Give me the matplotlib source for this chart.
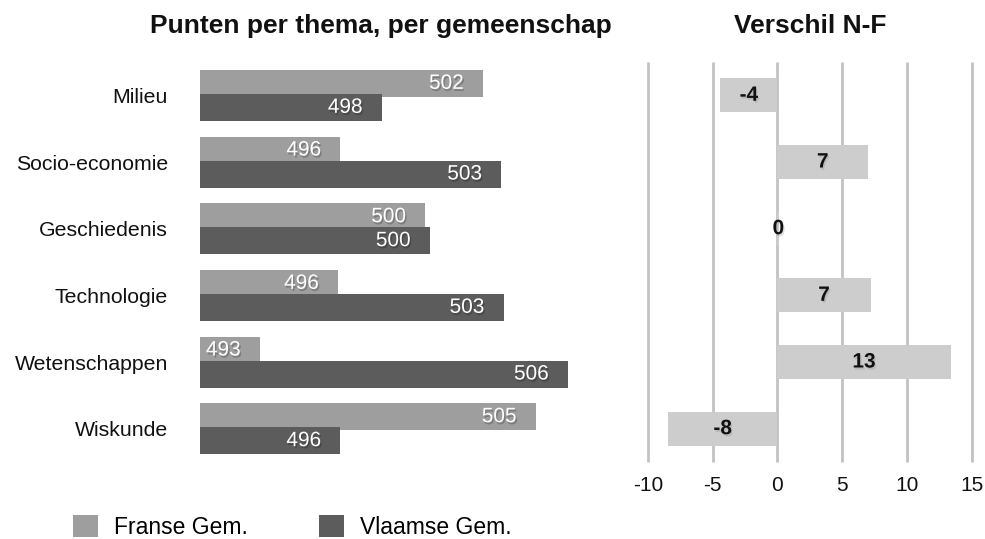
import matplotlib
matplotlib.use('Agg')
import matplotlib.pyplot as plt
import matplotlib.patheffects as pe
from matplotlib.patches import Patch

plt.rcParams['font.family'] = ['Liberation Sans', 'DejaVu Sans']

# Data
themas = ['Milieu', 'Socio-economie', 'Geschiedenis', 'Technologie', 'Wetenschappen', 'Wiskunde']
franse = [502.3, 496.1, 499.8, 496.0, 492.6, 504.6]
vlaamse = [497.9, 503.1, 500.0, 503.2, 506.0, 496.1]
verschil = [-4.4, 7.0, 0.15, 7.2, 13.4, -8.45]
verschil_ticks = [-10, -5, 0, 5, 10, 15]

FRANS_KLEUR = '#9d9e9d'
VLAAMS_KLEUR = '#5b5c5b'
VERSCHIL_KLEUR = '#cccdcc'
GRID_KLEUR = '#c2c2c2'

W, H = 985, 539
fig = plt.figure(figsize=(W / 100, H / 100), dpi=100)

shadow_white = [pe.SimplePatchShadow(offset=(1, -1.5), shadow_rgbFace='black', alpha=0.22), pe.Normal()]
shadow_black = [pe.SimplePatchShadow(offset=(1, -1.5), shadow_rgbFace='gray', alpha=0.25), pe.Normal()]

# left chart: scores per theme
ax = fig.add_axes([200 / W, 1 - 462 / H, 402.5 / W, 400 / H])
ypos = list(range(len(themas)))
ax.barh([y - 0.18 for y in ypos], [v - 490 for v in franse], left=490, height=0.405,
        color=FRANS_KLEUR, zorder=2)
ax.barh([y + 0.18 for y in ypos], [v - 490 for v in vlaamse], left=490, height=0.405,
        color=VLAAMS_KLEUR, zorder=3)
for y, f, v in zip(ypos, franse, vlaamse):
    ax.annotate('{:.0f}'.format(f), (f, y - 0.18), xytext=(-19, 0), textcoords='offset pixels',
                ha='right', va='center', color='white', fontsize=15, zorder=5,
                path_effects=shadow_white)
    ax.annotate('{:.0f}'.format(v), (v, y + 0.18), xytext=(-19, 0), textcoords='offset pixels',
                ha='right', va='center', color='white', fontsize=15, zorder=5,
                path_effects=shadow_white)
ax.set_xlim(490, 507.5)
ax.set_ylim(5.5, -0.5)
ax.set_yticks(ypos)
ax.set_yticklabels(themas, fontsize=15.3, color='#111111')
ax.set_xticks([])
ax.tick_params(axis='y', length=0, pad=23)
for spine in ax.spines.values():
    spine.set_visible(False)

# right chart: difference N-F
ax2 = fig.add_axes([648 / W, 1 - 462 / H, 323.5 / W, 400 / H])
ax2.barh(ypos, verschil, height=0.51, color=VERSCHIL_KLEUR, zorder=2)
for y, d in zip(ypos, verschil):
    ax2.text(d / 2, y, '{:.0f}'.format(d), ha='center', va='center', fontsize=15,
             fontweight='bold', color='#111111', zorder=5, path_effects=shadow_black)
ax2.vlines(verschil_ticks, -0.5, 5.5, color=GRID_KLEUR, linewidth=2, zorder=0, clip_on=False)
ax2.set_xlim(-10, 15)
ax2.set_ylim(5.5, -0.5)
ax2.set_xticks(verschil_ticks)
ax2.set_xticklabels([str(t) for t in verschil_ticks], fontsize=15, color='#111111')
ax2.set_yticks([])
ax2.tick_params(axis='x', length=0, pad=10)
for spine in ax2.spines.values():
    spine.set_visible(False)

# titles
fig.text(380.5 / W, 1 - 26 / H, 'Punten per thema, per gemeenschap', ha='center', va='center',
         fontsize=19, fontweight='bold', color='#111111')
fig.text(810 / W, 1 - 26 / H, 'Verschil N-F', ha='center', va='center',
         fontsize=19, fontweight='bold', color='#111111')

# legend
handles = [Patch(facecolor=FRANS_KLEUR, edgecolor='none'), Patch(facecolor=VLAAMS_KLEUR, edgecolor='none')]
fig.legend(handles, ['Franse Gem.', 'Vlaamse Gem.'], loc='center left',
           bbox_to_anchor=(73 / W, 1 - 527 / H), ncol=2, frameon=False, fontsize=16.5,
           handlelength=1.1, handleheight=1.1, handletextpad=0.7, columnspacing=3.1,
           borderpad=0, borderaxespad=0)

fig.savefig('out.png', dpi=100)
